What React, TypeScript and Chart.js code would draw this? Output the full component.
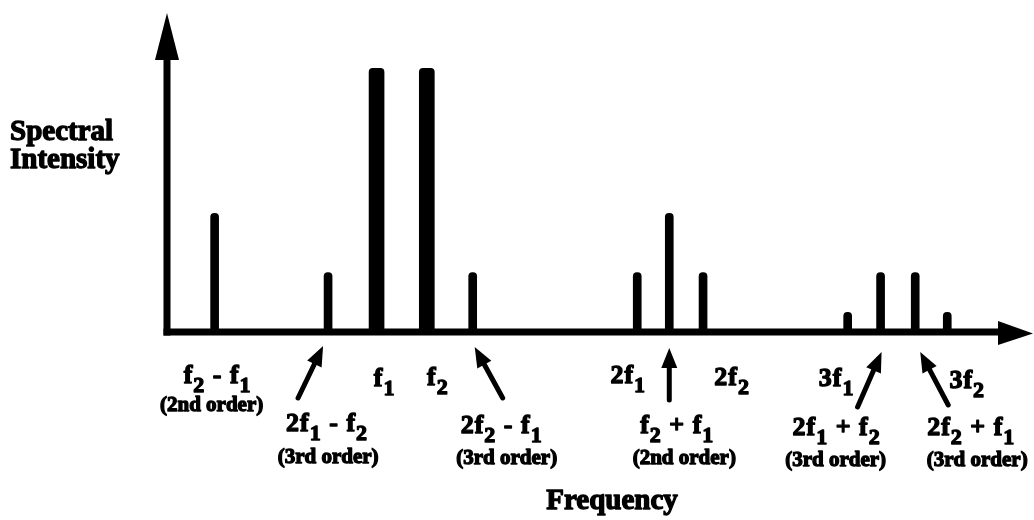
import React, { useEffect, useRef } from "react";
import { Chart, registerables } from "chart.js";

Chart.register(...registerables);

// ---- data (frequency in arbitrary units 0..100, intensity relative to carriers) ----
const componentLabels = [
  "f_2 - f_1",
  "2f_1 - f_2",
  "f_1",
  "f_2",
  "2f_2 - f_1",
  "2f_1",
  "f_2 + f_1",
  "2f_2",
  "3f_1",
  "2f_1 + f_2",
  "2f_2 + f_1",
  "3f_2",
];
const frequencies = [5.5, 18.6, 24.2, 30.0, 35.3, 54.3, 58.0, 61.9, 78.6, 82.4, 86.4, 90.1];
const intensities = [0.45, 0.225, 1.0, 1.0, 0.225, 0.225, 0.45, 0.225, 0.075, 0.225, 0.225, 0.075];
const isCarrier = [false, false, true, true, false, false, false, false, false, false, false, false];
const orderNotes = [
  "(2nd order)",
  "(3rd order)",
  "",
  "",
  "(3rd order)",
  "",
  "(2nd order)",
  "",
  "",
  "(3rd order)",
  "(3rd order)",
  "",
];
const hasPointer = [false, true, false, false, true, false, true, false, false, true, true, false];
const xAxisTitle = "Frequency";
const yAxisTitle = ["Spectral", "Intensity"];

// ---- layout (pixel offsets of annotations relative to their bar / the axis) ----
// [labelDx, labelBaselineDy, noteDx, noteBaselineDy]
const labelLayout: number[][] = [
  [3, 51, -3, 79],
  [-1, 99, 0, 131],
  [8, 54, 0, 0],
  [11, 53, 0, 0],
  [29, 101, 34, 132],
  [-9, 51, 0, 0],
  [8, 101, 15, 132],
  [29, 53, 0, 0],
  [-11, 54, 0, 0],
  [-44, 103, -45, 134],
  [56, 103, 62, 134],
  [20, 56, 0, 0],
];
// [headDx, headDy, tailDx, tailDy]
const pointerLayout: number[][] = [
  [0, 0, 0, 0],
  [-5, 14, -30, 66],
  [0, 0, 0, 0],
  [0, 0, 0, 0],
  [2, 15, 30, 66],
  [0, 0, 0, 0],
  [0, 16, 0, 68],
  [0, 0, 0, 0],
  [0, 0, 0, 0],
  [1, 20, -23, 75],
  [5, 20, 33, 73],
  [0, 0, 0, 0],
];

const FONT = '"Liberation Serif", "Times New Roman", serif';
const font = (s: number) => `bold ${s}px ${FONT}`;

function heavyText(ctx: CanvasRenderingContext2D, t: string, x: number, y: number) {
  ctx.lineWidth = 1.3;
  ctx.lineJoin = "round";
  ctx.strokeText(t, x, y);
  ctx.fillText(t, x, y);
}

type Seg = { t: string; sub: boolean };
function parseMarkup(m: string): Seg[] {
  const segs: Seg[] = [];
  for (let i = 0; i < m.length; i++) {
    const c = m[i];
    if (c === "_" && i + 1 < m.length) {
      segs.push({ t: m[i + 1], sub: true });
      i++;
    } else {
      const last = segs[segs.length - 1];
      if (last && !last.sub) last.t += c;
      else segs.push({ t: c, sub: false });
    }
  }
  return segs;
}

function drawRich(ctx: CanvasRenderingContext2D, markup: string, cx: number, baseline: number) {
  const mainSize = 26;
  const subSize = 22;
  const drop = 9;
  const segs = parseMarkup(markup);
  (ctx as any).letterSpacing = "1px";
  let total = 0;
  const widths = segs.map((s) => {
    ctx.font = font(s.sub ? subSize : mainSize);
    const w = ctx.measureText(s.t).width;
    total += w;
    return w;
  });
  let x = cx - total / 2;
  ctx.textAlign = "left";
  ctx.textBaseline = "alphabetic";
  segs.forEach((s, i) => {
    ctx.font = font(s.sub ? subSize : mainSize);
    heavyText(ctx, s.t, x, baseline + (s.sub ? drop : 0));
    x += widths[i];
  });
  (ctx as any).letterSpacing = "0px";
}

function drawArrow(ctx: CanvasRenderingContext2D, x1: number, y1: number, x2: number, y2: number, shaft: number, headLen: number, headHalf: number) {
  const dx = x2 - x1;
  const dy = y2 - y1;
  const len = Math.hypot(dx, dy);
  const ux = dx / len;
  const uy = dy / len;
  const bx = x2 - ux * headLen;
  const by = y2 - uy * headLen;
  ctx.lineWidth = shaft;
  ctx.lineCap = "round";
  ctx.beginPath();
  ctx.moveTo(x1, y1);
  ctx.lineTo(bx + ux * 2, by + uy * 2);
  ctx.stroke();
  ctx.beginPath();
  ctx.moveTo(x2, y2);
  ctx.lineTo(bx - uy * headHalf, by + ux * headHalf);
  ctx.lineTo(bx + uy * headHalf, by - ux * headHalf);
  ctx.closePath();
  ctx.fill();
}

const annotationPlugin = {
  id: "spectrumAnnotations",
  afterDatasetsDraw(chart: any) {
    const ctx: CanvasRenderingContext2D = chart.ctx;
    const xs = chart.scales.x;
    const ys = chart.scales.y;
    const area = chart.chartArea;
    const x0 = xs.getPixelForValue(0);
    const y0 = ys.getPixelForValue(0);
    ctx.save();
    ctx.fillStyle = "#000";
    ctx.strokeStyle = "#000";

    // axes with arrowheads
    ctx.lineCap = "butt";
    ctx.lineWidth = 7;
    ctx.beginPath();
    ctx.moveTo(x0, y0 + 3.5);
    ctx.lineTo(x0, area.top + 40);
    ctx.stroke();
    ctx.beginPath();
    ctx.moveTo(x0, area.top);
    ctx.lineTo(x0 - 12, area.top + 47);
    ctx.lineTo(x0 + 12, area.top + 47);
    ctx.closePath();
    ctx.fill();

    ctx.beginPath();
    ctx.moveTo(x0 - 3.5, y0);
    ctx.lineTo(area.right - 30, y0);
    ctx.stroke();
    ctx.beginPath();
    ctx.moveTo(area.right, y0 + 1.5);
    ctx.lineTo(area.right - 35, y0 - 11);
    ctx.lineTo(area.right - 35, y0 + 13);
    ctx.closePath();
    ctx.fill();

    // pointer arrows
    frequencies.forEach((f, i) => {
      if (!hasPointer[i]) return;
      const bx = xs.getPixelForValue(f);
      const p = pointerLayout[i];
      drawArrow(ctx, bx + p[2], y0 + p[3], bx + p[0], y0 + p[1], 5, 20, 8);
    });

    // component labels and order notes
    frequencies.forEach((f, i) => {
      const bx = xs.getPixelForValue(f);
      const l = labelLayout[i];
      drawRich(ctx, componentLabels[i], bx + l[0], y0 + l[1]);
      if (orderNotes[i]) {
        ctx.font = font(21);
        ctx.textAlign = "center";
        ctx.textBaseline = "alphabetic";
        heavyText(ctx, orderNotes[i], bx + l[2], y0 + l[3]);
      }
    });

    // axis titles
    ctx.font = font(29);
    ctx.textAlign = "center";
    heavyText(ctx, xAxisTitle, 612, 509);
    ctx.textAlign = "left";
    heavyText(ctx, yAxisTitle[0], 10, 140);
    heavyText(ctx, yAxisTitle[1], 10, 168);
    ctx.restore();
  },
};

export default function App() {
  const canvasRef = useRef<HTMLCanvasElement | null>(null);

  useEffect(() => {
    if (!canvasRef.current) return;
    const rows = frequencies.map((f, i) => ({ x: f, y: intensities[i], c: isCarrier[i] }));
    const thin = rows.filter((d) => !d.c).map((d) => ({ x: d.x, y: d.y }));
    const carriers = rows.filter((d) => d.c).map((d) => ({ x: d.x, y: d.y }));

    const chart = new Chart(canvasRef.current, {
      type: "bar",
      data: {
        datasets: [
          {
            label: "Intermodulation products",
            data: thin,
            backgroundColor: "#000",
            barThickness: 8,
            borderRadius: 4,
            borderSkipped: "bottom",
            grouped: false,
          } as any,
          {
            label: "Carriers",
            data: carriers,
            backgroundColor: "#000",
            barThickness: 15,
            borderRadius: 4,
            borderSkipped: "bottom",
            grouped: false,
          } as any,
        ],
      },
      options: {
        animation: false,
        responsive: true,
        maintainAspectRatio: false,
        layout: { padding: { left: 167, right: 1, top: 13, bottom: 188 } },
        plugins: {
          legend: { display: false },
          tooltip: { enabled: false },
          title: { display: false },
        },
        scales: {
          x: { type: "linear", min: 0, max: 100, offset: false, display: false },
          y: { type: "linear", min: 0, max: 1.21, display: false },
        },
      },
      plugins: [annotationPlugin],
    });
    return () => chart.destroy();
  }, []);

  return (
    <div style={{ position: "absolute", left: 0, top: 0, width: 1034, height: 520, background: "#fff" }}>
      <canvas ref={canvasRef} />
    </div>
  );
}
